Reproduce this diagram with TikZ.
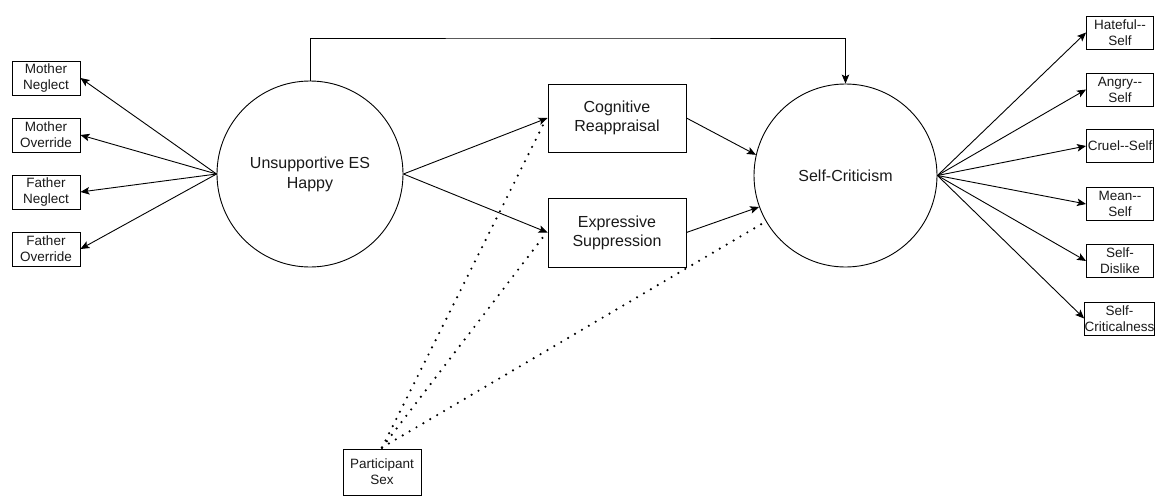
\documentclass[tikz,border=0pt]{standalone}
\usepackage{fontspec}
\setmainfont{Liberation Sans}
\usetikzlibrary{arrows.meta}
% two hyphens without the en-dash ligature
\newcommand{\dblhyph}{-\kern0pt-}
\begin{document}
\begin{tikzpicture}[x=1pt,y=-1pt,
  every node/.style={inner sep=0pt, align=center, text=black!90},
  latent/.style={draw, circle, line width=0.9pt, minimum size=186pt,
    font=\fontsize{16}{20}\selectfont},
  midbox/.style={draw, line width=0.9pt, minimum width=138pt, minimum height=68pt,
    font=\fontsize{16}{19}\selectfont},
  indbox/.style={draw, line width=0.9pt, minimum width=68pt, minimum height=34pt,
    font=\fontsize{13.5}{16}\selectfont},
  outbox/.style={indbox, minimum width=67pt, minimum height=33pt},
  arr/.style={line width=0.9pt, -{Stealth[length=9pt,width=7.5pt,inset=2pt]}},
  dots/.style={line width=2.4pt, line cap=round, dash pattern=on 0pt off 8pt}
]
\useasboundingbox (0,0) rectangle (1157,498);

% latent factors
\node[latent] (lc) at (310,174) {Unsupportive ES\\Happy};
\node[latent, minimum size=183pt] (sc) at (845.5,175.5) {Self-Criticism};

% mediators
\node[midbox] (cr) at (617,118) {Cognitive\\Reappraisal};
\node[midbox, minimum height=69pt] (es) at (617,232.5) {Expressive\\Suppression};

% parental indicators
\node[indbox] (mn) at (46,78) {Mother\\Neglect};
\node[indbox] (mo) at (46,135) {Mother\\Override};
\node[indbox] (fn) at (46,192) {Father\\Neglect};
\node[indbox] (fo) at (46,249) {Father\\Override};

% self-criticism indicators
\node[outbox] (hs) at (1120,32.5) {Hateful\dblhyph\\Self};
\node[outbox] (as) at (1120,89.5) {Angry\dblhyph\\Self};
\node[outbox] (cs) at (1120,146) {Cruel\dblhyph Self};
\node[outbox] (ms) at (1120,204) {Mean\dblhyph\\Self};
\node[outbox] (sd) at (1120,261) {Self-\\Dislike};
\node[outbox] (sk) at (1119.5,318.5) {Self-\\Criticalness};

% covariate
\node[indbox, minimum width=78pt, minimum height=46pt] (ps) at (382,472) {Participant\\Sex};

% measurement paths
\foreach \b in {mn,mo,fn,fo} \draw[arr] (lc.west) -- (\b.east);
\foreach \b in {hs,as,cs,ms,sd,sk} \draw[arr] (sc.east) -- (\b.west);

% structural paths
\draw[arr] (lc.east) -- (cr.west);
\draw[arr] (lc.east) -- (es.west);
\draw[arr] (cr.east) -- (sc.167);
\draw[arr] (es.east) -- (sc.200);
\coordinate (ytop) at (578,38);
\draw[arr] (lc.north) |- (ytop) -| (sc.north);

% covariate paths
\coordinate (pst) at ([yshift=1pt]ps.north);
\draw[dots] (pst) -- ([xshift=-4pt,yshift=-6pt]cr.west);
\draw[dots] (pst) -- ([xshift=-1pt]es.west);
\draw[dots] (pst) -- (sc.210);
\end{tikzpicture}
\end{document}
